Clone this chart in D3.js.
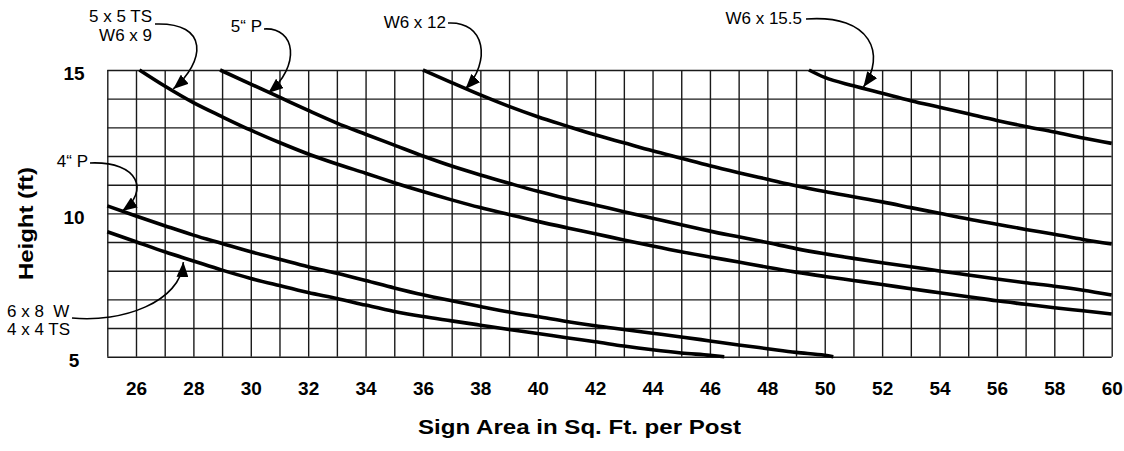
<!DOCTYPE html>
<html>
<head>
<meta charset="utf-8">
<script src="https://cdn.jsdelivr.net/npm/d3@7"></script>
<style>
  html, body { margin: 0; padding: 0; background: #fff; }
  svg { display: block; font-family: "Liberation Sans", Arial, Helvetica, sans-serif; }
</style>
</head>
<body>
<svg id="chart" width="1124" height="451"></svg>
<script>
// ---------------- DATA ----------------
const xTickLabels = [26, 28, 30, 32, 34, 36, 38, 40, 42, 44, 46, 48, 50, 52, 54, 56, 58, 60];
const yTickLabels = [5, 10, 15];
const xGridValues = d3.range(25, 61, 1);
const yGridValues = d3.range(5, 16, 1);

// [sign area (sq ft per post), height (ft)]
const post6x8W = [[25, 9.36], [26, 9.01], [27, 8.66], [28, 8.34], [29, 8.02], [30, 7.73], [31, 7.48], [32, 7.24], [33, 7.03], [34, 6.80], [35, 6.58], [36, 6.40], [37, 6.25], [38, 6.10], [39, 5.95], [40, 5.81], [41, 5.66], [42, 5.52], [43, 5.37], [44, 5.24], [45, 5.13], [46, 5.05], [46.5, 5.0]];
const post4inP = [[25, 10.26], [26, 9.91], [27, 9.57], [28, 9.24], [29, 8.95], [30, 8.66], [31, 8.40], [32, 8.14], [33, 7.91], [34, 7.66], [35, 7.40], [36, 7.16], [37, 6.95], [38, 6.75], [39, 6.56], [40, 6.40], [41, 6.23], [42, 6.08], [43, 5.95], [44, 5.82], [45, 5.69], [46, 5.55], [47, 5.41], [48, 5.28], [49, 5.15], [50, 5.05], [50.3, 5.0]];
const post5x5TS = [[26.12, 15], [27, 14.44], [28, 13.86], [29, 13.37], [30, 12.90], [31, 12.47], [32, 12.07], [33, 11.72], [34, 11.40], [35, 11.07], [36, 10.76], [37, 10.47], [38, 10.20], [39, 9.96], [40, 9.72], [41, 9.50], [42, 9.29], [43, 9.07], [44, 8.86], [45, 8.66], [46, 8.48], [47, 8.30], [48, 8.12], [49, 7.95], [50, 7.80], [51, 7.66], [52, 7.52], [53, 7.37], [54, 7.23], [55, 7.09], [56, 6.95], [57, 6.83], [58, 6.71], [59, 6.60], [60, 6.49]];
const post5inP = [[28.93, 15], [30, 14.51], [31, 14.05], [32, 13.59], [33, 13.15], [34, 12.76], [35, 12.38], [36, 12.00], [37, 11.65], [38, 11.34], [39, 11.05], [40, 10.77], [41, 10.52], [42, 10.29], [43, 10.06], [44, 9.83], [45, 9.60], [46, 9.38], [47, 9.18], [48, 8.98], [49, 8.77], [50, 8.59], [51, 8.43], [52, 8.28], [53, 8.14], [54, 7.99], [55, 7.85], [56, 7.71], [57, 7.58], [58, 7.46], [59, 7.32], [60, 7.15]];
const postW6x12 = [[36, 15], [37, 14.56], [38, 14.13], [39, 13.73], [40, 13.37], [41, 13.05], [42, 12.74], [43, 12.46], [44, 12.18], [45, 11.92], [46, 11.66], [47, 11.42], [48, 11.19], [49, 10.96], [50, 10.76], [51, 10.58], [52, 10.40], [53, 10.20], [54, 10.00], [55, 9.80], [56, 9.62], [57, 9.44], [58, 9.27], [59, 9.09], [60, 8.93]];
const postW6x155 = [[49.45, 15], [50, 14.74], [51, 14.45], [52, 14.19], [53, 13.93], [54, 13.70], [55, 13.47], [56, 13.24], [57, 13.03], [58, 12.84], [59, 12.63], [60, 12.44]];

const seriesList = [post6x8W, post4inP, post5x5TS, post5inP, postW6x12, postW6x155];

// ---------------- LAYOUT ----------------
(function () {
const svg = d3.select("#chart");
svg.append("rect").attr("width", 1124).attr("height", 451).attr("fill", "#fff");

const mLeft = 107.3, mRight = 1111.7, mTop = 70, mBottom = 356.7;
const x = d3.scaleLinear().domain([25, 60]).range([mLeft, mRight]);
const y = d3.scaleLinear().domain([5, 15]).range([mBottom, mTop]);
const plotH = mBottom - mTop, plotW = mRight - mLeft;

const FONT = '"Liberation Sans", Arial, Helvetica, sans-serif';

// Grid (vertical)
const gx = svg.append("g")
  .attr("transform", `translate(0,${mBottom})`)
  .call(d3.axisBottom(x).tickValues(xGridValues).tickSize(-plotH).tickFormat(""));
gx.select(".domain").remove();
gx.selectAll("line").attr("stroke", "#1a1a1a").attr("stroke-width", 1.4);

// Grid (horizontal)
const gy = svg.append("g")
  .attr("transform", `translate(${mLeft},0)`)
  .call(d3.axisLeft(y).tickValues(yGridValues).tickSize(-plotW).tickFormat(""));
gy.select(".domain").remove();
gy.selectAll("line").attr("stroke", "#1a1a1a").attr("stroke-width", 1.4);

// X tick labels
const xl = svg.append("g")
  .attr("transform", `translate(0,${mBottom})`)
  .call(d3.axisBottom(x).tickValues(xTickLabels).tickSize(0).tickFormat(d3.format("d")));
xl.select(".domain").remove();
xl.selectAll("text")
  .attr("y", 38).attr("dy", null)
  .attr("font-family", FONT).attr("font-size", 19).attr("font-weight", "bold").attr("fill", "#000");

// Y tick labels
const yl = svg.append("g")
  .attr("transform", `translate(${mLeft},0)`)
  .call(d3.axisLeft(y).tickValues(yTickLabels).tickSize(0).tickFormat(d3.format("d")));
yl.select(".domain").remove();
yl.selectAll("text")
  .attr("x", 74 - mLeft).attr("y", 3).attr("dy", "0.35em")
  .attr("text-anchor", "middle")
  .attr("font-family", FONT).attr("font-size", 19).attr("font-weight", "bold").attr("fill", "#000");

// Axis titles
svg.append("text")
  .attr("x", 418).attr("y", 434)
  .attr("textLength", 323).attr("lengthAdjust", "spacingAndGlyphs")
  .attr("font-family", FONT).attr("font-size", 21).attr("font-weight", "bold").attr("fill", "#000")
  .text("Sign Area in Sq. Ft. per Post");

svg.append("text")
  .attr("transform", "translate(33,280) rotate(-90)")
  .attr("textLength", 113).attr("lengthAdjust", "spacingAndGlyphs")
  .attr("font-family", FONT).attr("font-size", 21).attr("font-weight", "bold").attr("fill", "#000")
  .text("Height (ft)");

// Curves
const line = d3.line().x(d => x(d[0])).y(d => y(d[1])).curve(d3.curveMonotoneX);
svg.append("g").selectAll("path").data(seriesList).join("path")
  .attr("d", line)
  .attr("fill", "none").attr("stroke", "#000").attr("stroke-width", 3.6);

// Arrow marker
svg.append("defs").append("marker")
  .attr("id", "arrow").attr("markerUnits", "userSpaceOnUse")
  .attr("viewBox", "0 0 15 12").attr("refX", 15).attr("refY", 6)
  .attr("markerWidth", 15).attr("markerHeight", 12).attr("orient", "auto")
  .append("path").attr("d", "M0,0 L15,6 L0,12 Z").attr("fill", "#000");

// Annotations (labels + curved leaders pointing at a point of each curve)
const annotations = [
  { lines: ["5 x 5 TS", "W6 x 9"], anchor: "end", tx: 152, ty: [22, 41], start: [155, 24], c1: [210, 22], c2: [205, 62], tip: [27.30, 14.34] },
  { lines: ["5\u201C P"], anchor: "end", tx: 262, ty: [32], start: [264, 29], c1: [296, 27], c2: [301, 66], tip: [30.61, 14.20] },
  { lines: ["W6 x 12"], anchor: "end", tx: 446, ty: [28], start: [448, 23], c1: [486, 21], c2: [491, 62], tip: [37.48, 14.34] },
  { lines: ["W6 x 15.5"], anchor: "end", tx: 802, ty: [24], start: [806, 19], c1: [872, 14], c2: [886, 55], tip: [51.35, 14.41] },
  { lines: ["4\u201C P"], anchor: "end", tx: 88, ty: [167], start: [90, 163], c1: [140, 161], c2: [149, 192], tip: [25.52, 10.08] },
  { lines: ["6 x 8\u00A0 W", "4 x 4 TS"], anchor: "start", tx: 7, ty: [317, 335], start: [72, 318], c1: [122, 323], c2: [181, 302], tip: [27.65, 8.30] }
];

const ag = svg.append("g");
annotations.forEach(a => {
  const t = ag.append("text")
    .attr("text-anchor", a.anchor)
    .attr("font-family", FONT).attr("font-size", 17).attr("fill", "#000")
    .style("white-space", "pre");
  a.lines.forEach((s, i) => {
    t.append("tspan").attr("x", a.tx).attr("y", a.ty[i]).text(s);
  });
  const p = d3.path();
  p.moveTo(a.start[0], a.start[1]);
  p.bezierCurveTo(a.c1[0], a.c1[1], a.c2[0], a.c2[1], x(a.tip[0]), y(a.tip[1]));
  ag.append("path").attr("d", p.toString())
    .attr("fill", "none").attr("stroke", "#000").attr("stroke-width", 1.6)
    .attr("marker-end", "url(#arrow)");
});
})();
</script>
</body>
</html>
